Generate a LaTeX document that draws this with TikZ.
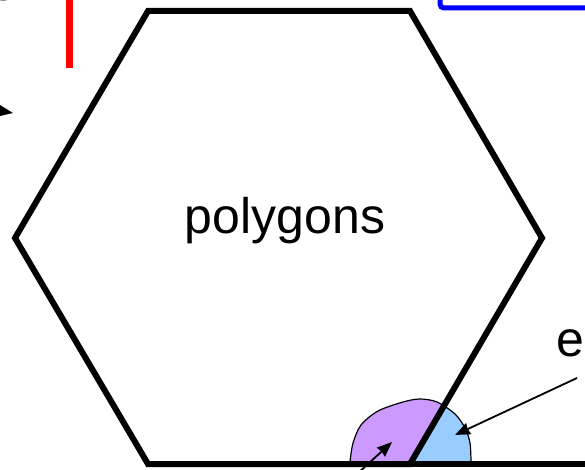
\documentclass[tikz,border=0pt]{standalone}
\usepackage{fontspec}
\setmainfont{Liberation Sans}
\usetikzlibrary{arrows.meta,positioning}
\definecolor{blobpurple}{RGB}{204,153,255}
\definecolor{blobblue}{RGB}{153,204,255}
\definecolor{frameblue}{RGB}{0,0,255}
\definecolor{markred}{RGB}{255,0,0}

\begin{document}
\begin{tikzpicture}[x=1pt,y=-1pt,
  hexedge/.style={line width=6pt,color=black},
  blobline/.style={line width=1.2pt,color=black},
  lbl/.style={font=\fontsize{50}{60}\selectfont,inner sep=0pt},
  arr/.style={-{Stealth[length=15pt,width=12pt,inset=1pt]},line width=1.8pt,color=black}]

  \useasboundingbox (0,0) rectangle (585,470);

  % pieces cut off at the border
  \draw[line width=7pt,markred] (69,-10) -- (69,68);
  \draw[line width=5pt,frameblue,rounded corners=4pt] (440,-40) -- (440,8) -- (640,8);
  \node[lbl,anchor=base east] (toplbl) at (31,1) {e.};

  % the blob on the lower edge
  \coordinate (blobA) at (350,464);
  \coordinate (blobZ) at (471,464);
  \fill[blobpurple] (blobA) -- plot[smooth] coordinates {(350,462) (353,443) (361,425) (378,411) (403,402) (420,399) (437,402) (455,414) (465,428) (470,443) (471,462)} -- (blobZ) -- cycle;
  \begin{scope}
    \clip (542,238) -- (401,480) -- (600,480) -- (600,238) -- cycle;
    \fill[blobblue] (blobA) -- plot[smooth] coordinates {(350,462) (353,443) (361,425) (378,411) (403,402) (420,399) (437,402) (455,414) (465,428) (470,443) (471,462)} -- (blobZ) -- cycle;
  \end{scope}
  \draw[blobline] plot[smooth] coordinates {(350,462) (353,443) (361,425) (378,411) (403,402) (420,399) (437,402) (455,414) (465,428) (470,443) (471,462)};

  % hexagon
  \coordinate (hexA) at (148,11);
  \coordinate (hexB) at (410,11);
  \coordinate (hexC) at (542,238);
  \coordinate (hexD) at (410,464);
  \coordinate (hexE) at (148,464);
  \coordinate (hexF) at (15,238);
  \draw[hexedge] (hexA) -- (hexB) -- (hexC) -- (hexD) -- (hexE) -- (hexF) -- cycle;
  \draw[hexedge] (hexD) -- (600,464);

  \node[lbl,anchor=base] (poly) at (285,233) {polygons};
  \node[lbl,anchor=base west] (edgelbl) at (556,356) {e};

  % arrows
  \coordinate (leftTail) at (-30,106);
  \coordinate (leftTip) at (13,113);
  \draw[arr] (leftTail) -- (leftTip);
  \coordinate (edgeTail) at (577,378);
  \coordinate (blueTip) at (455,435);
  \draw[arr] (edgeTail) -- (blueTip);
  \coordinate (purpleTail) at (345,485);
  \coordinate (purpleTip) at (392,442);
  \draw[arr] (purpleTail) -- (purpleTip);
\end{tikzpicture}
\end{document}
